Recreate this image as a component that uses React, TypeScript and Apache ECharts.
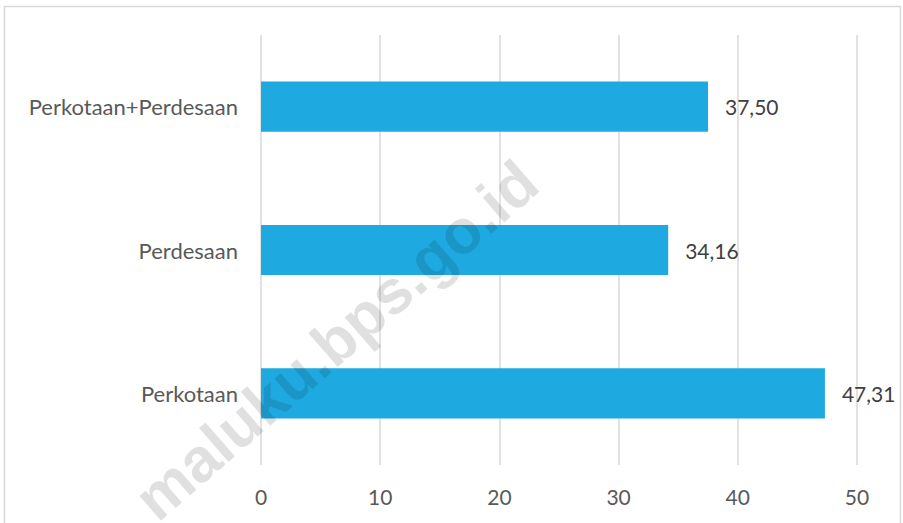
import React, { useEffect, useRef } from "react";
import * as echarts from "echarts";

const categories = ["Perkotaan", "Perdesaan", "Perkotaan+Perdesaan"];
const values = [47.31, 34.16, 37.5];
const axisMin = 0;
const axisMax = 50;
const axisInterval = 10;
const watermark = "maluku.bps.go.id";

export default function App() {
  const ref = useRef<HTMLDivElement>(null);
  useEffect(() => {
    if (!ref.current) return;
    const chart = echarts.init(ref.current, undefined, { renderer: "svg" });
    const font = "Lato, 'Open Sans', sans-serif";
    chart.setOption({
      animation: false,
      backgroundColor: "#ffffff",
      grid: { left: 261, right: 46, top: 35, bottom: 58, containLabel: false },
      xAxis: {
        type: "value",
        min: axisMin,
        max: axisMax,
        interval: axisInterval,
        axisLine: { show: false },
        axisTick: { show: false },
        axisLabel: { color: "#595959", fontSize: 21, fontFamily: font, margin: 21 },
        splitLine: { show: true, lineStyle: { color: "#d9d9d9", width: 1.5 } },
      },
      yAxis: {
        type: "category",
        data: categories,
        axisLine: { show: false },
        axisTick: { show: false },
        axisLabel: { color: "#595959", fontSize: 22, fontFamily: font, margin: 23 },
        splitLine: { show: false },
      },
      series: [
        {
          type: "bar",
          data: values,
          barWidth: "35%",
          itemStyle: { color: "#1EAAE1" },
          label: {
            show: true,
            position: "right",
            distance: 17,
            color: "#404040",
            fontSize: 21,
            fontFamily: font,
            formatter: (p: any) => Number(p.value).toFixed(2).replace(".", ","),
          },
        },
      ],
      graphic: [
        {
          type: "rect",
          shape: { x: 4.5, y: 6.5, width: 896, height: 530 },
          style: { fill: "none", stroke: "#d9d9d9", lineWidth: 1.5 },
          silent: true,
          z: 0,
        },
        {
          type: "text",
          x: 336,
          y: 340,
          rotation: (41 * Math.PI) / 180,
          style: {
            text: watermark,
            fontSize: 62,
            fontWeight: "bold",
            fontFamily: "'Liberation Sans', Arial, sans-serif",
            fill: "rgba(0,0,0,0.12)",
            textAlign: "center",
            textVerticalAlign: "middle",
          },
          silent: true,
          z: 100,
        },
      ],
    });
    return () => chart.dispose();
  }, []);
  return (
    <div
      ref={ref}
      style={{ position: "fixed", left: 0, top: 0, width: 903, height: 523 }}
    />
  );
}
